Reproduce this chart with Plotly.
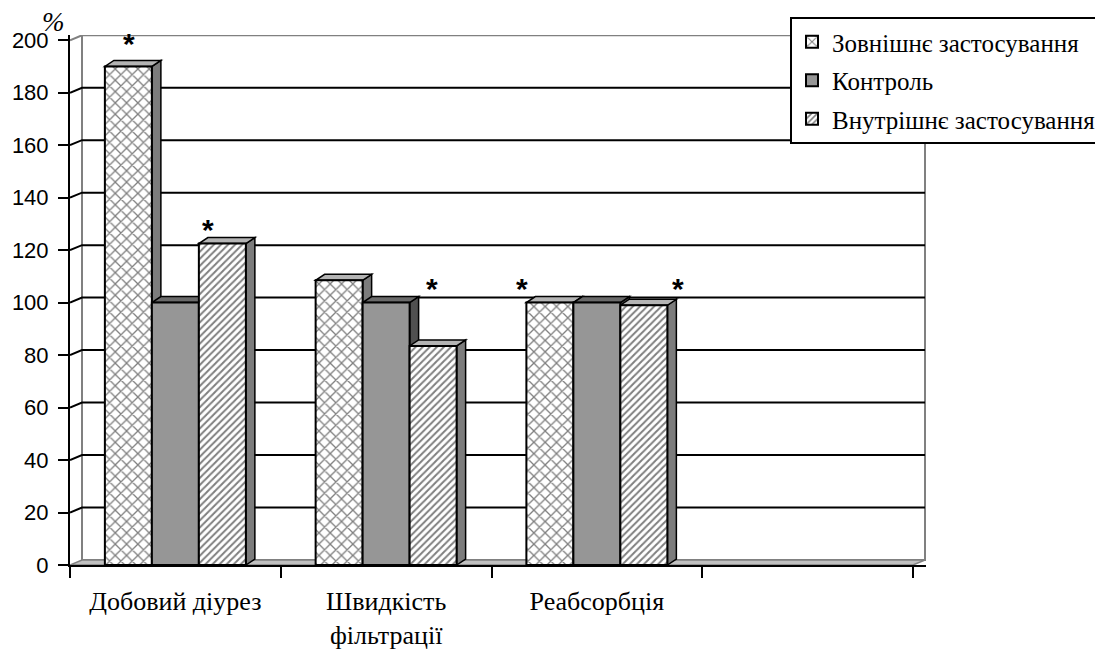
import plotly.graph_objects as go

# ---------------- data ----------------
categories = ["Добовий діурез", "Швидкість<br>фільтрації", "Реабсорбція", ""]
series_names = ["Зовнішнє застосування", "Контроль", "Внутрішнє застосування"]
ext_values = [190, 108.5, 100]
control_values = [100, 100, 100]
int_values = [122.5, 83.5, 99]
y_ticks = [0, 20, 40, 60, 80, 100, 120, 140, 160, 180, 200]
# significance stars: x in category units, y in %
star_x = [-0.22, 0.155, 1.22, 1.645, 2.385]
star_y = [201, 130, 107.5, 107.5, 107.5]

SERIF = "'Times New Roman', 'Liberation Serif', serif"
SANS = "Arial, 'Liberation Sans', sans-serif"

# ---------------- layout geometry ----------------
OFF = 8                          # page body margin
W, H = 1103 - OFF, 649 - OFF
L, R, T, B = 70 - OFF, 177, 35 - OFF, 84
WALL_DX, WALL_DY = 12, 5      # px depth of back wall
BAR_DX, BAR_DY = 9, 6         # px depth of bars
BARGAP = 0.331
n_cat = len(categories)
x_min = -0.5
x_max_front = n_cat - 0.5
plot_w = W - L - R
plot_h = H - T - B
ux = 210.75                     # px per category
x_max = x_min + plot_w / ux
y_max = 200 + 2.0
uy = plot_h / y_max
wdx, wdy = WALL_DX / ux, WALL_DY / uy
bdx, bdy = BAR_DX / ux, BAR_DY / uy

series = [ext_values, control_values, int_values]
front_styles = [
    dict(color="white", pattern=dict(shape="x", fgcolor="black", bgcolor="white", size=8, solidity=0.3)),
    dict(color="#969696"),
    dict(color="white", pattern=dict(shape="/", fgcolor="black", bgcolor="white", size=5, solidity=0.4)),
]
top_colors = ["#b4b4b4", "#6a6a6a", "#b4b4b4"]
side_colors = ["#7c7c7c", "#505050", "#7c7c7c"]

fig = go.Figure()
for j, (name, vals) in enumerate(zip(series_names, series)):
    st = dict(front_styles[j])
    st["line"] = dict(color="black", width=2)
    fig.add_trace(go.Bar(
        x=list(range(len(vals))), y=vals, name=name, marker=st,
        legendgroup=f"g{j}", hoverinfo="skip",
    ))

shapes = []
# back wall
shapes.append(dict(type="rect", layer="below", xref="x", yref="y",
                   x0=x_min + wdx, x1=x_max_front + wdx, y0=wdy, y1=200 + wdy,
                   fillcolor="white", line=dict(color="#808080", width=2)))
# floor
shapes.append(dict(type="path", layer="below", xref="x", yref="y",
                   path=f"M{x_min},0 L{x_max_front},0 L{x_max_front + wdx},{wdy} L{x_min + wdx},{wdy} Z",
                   fillcolor="#c0c0c0", line=dict(color="#808080", width=1.5)))
# top slant of wall
shapes.append(dict(type="line", layer="below", xref="x", yref="y",
                   x0=x_min, y0=200, x1=x_min + wdx, y1=200 + wdy,
                   line=dict(color="#808080", width=2)))
# gridlines on the back wall
for v in y_ticks[1:-1]:
    shapes.append(dict(type="path", layer="below", xref="x", yref="y",
                       path=f"M{x_min},{v} L{x_min + wdx},{v + wdy} L{x_max_front + wdx},{v + wdy}",
                       line=dict(color="black", width=2)))
# 3D faces of bars
w = (1 - BARGAP) / len(series)
for i in range(len(ext_values)):
    for j, vals in enumerate(series):
        v = vals[i]
        xc = i + (j - (len(series) - 1) / 2) * w
        xl, xr = xc - w / 2, xc + w / 2
        shapes.append(dict(type="path", layer="between", xref="x", yref="y",
                           path=f"M{xr},0 L{xr + bdx},{bdy} L{xr + bdx},{v + bdy} L{xr},{v} Z",
                           fillcolor=side_colors[j], line=dict(color="black", width=1.5)))
        shapes.append(dict(type="path", layer="between", xref="x", yref="y",
                           path=f"M{xl},{v} L{xr},{v} L{xr + bdx},{v + bdy} L{xl + bdx},{v + bdy} Z",
                           fillcolor=top_colors[j], line=dict(color="black", width=1.5)))

annotations = []
for sx, sy in zip(star_x, star_y):
    annotations.append(dict(x=sx, y=sy, xref="x", yref="y", text="<b>*</b>", showarrow=False,
                            font=dict(family=SANS, size=30, color="black"),
                            xanchor="center", yanchor="middle", yshift=-6))
annotations.append(dict(x=x_min, y=200, xref="x", yref="y", text="<i>%</i>", showarrow=False,
                        font=dict(family=SERIF, size=27, color="black"),
                        xanchor="center", yanchor="middle", xshift=-17, yshift=18))

fig.update_layout(
    width=W, height=H,
    margin=dict(l=L, r=R, t=T, b=B, autoexpand=False),
    paper_bgcolor="white", plot_bgcolor="white",
    barmode="group", bargap=BARGAP, bargroupgap=0,
    shapes=shapes, annotations=annotations,
    showlegend=True,
    legend=dict(x=(790 - OFF - L) / plot_w, y=(H - B - (17 - OFF)) / plot_h, xanchor="left", yanchor="top",
                bgcolor="white", bordercolor="black", borderwidth=2,
                font=dict(family=SERIF, size=25, color="black"),
                tracegroupgap=3, itemwidth=30),
    xaxis=dict(range=[x_min, x_max], tickmode="array",
               tickvals=list(range(n_cat)), ticktext=categories,
               ticks="", showgrid=False, zeroline=False,
               showline=True, linecolor="black", linewidth=2,
               tickfont=dict(family=SERIF, size=26, color="black"),
               ticklabelstandoff=12,
               minor=dict(tickmode="array", tickvals=[k - 0.5 for k in range(n_cat + 1)],
                          ticks="outside", ticklen=11, tickwidth=2, tickcolor="black", showgrid=False)),
    yaxis=dict(range=[0, y_max], tickmode="array", tickvals=y_ticks,
               ticks="outside", ticklen=10, tickwidth=2, tickcolor="black",
               showgrid=False, zeroline=False,
               showline=True, linecolor="black", linewidth=2,
               ticklabelstandoff=5,
               tickfont=dict(family=SANS, size=22, color="black")),
)

fig.write_html("out.html")
